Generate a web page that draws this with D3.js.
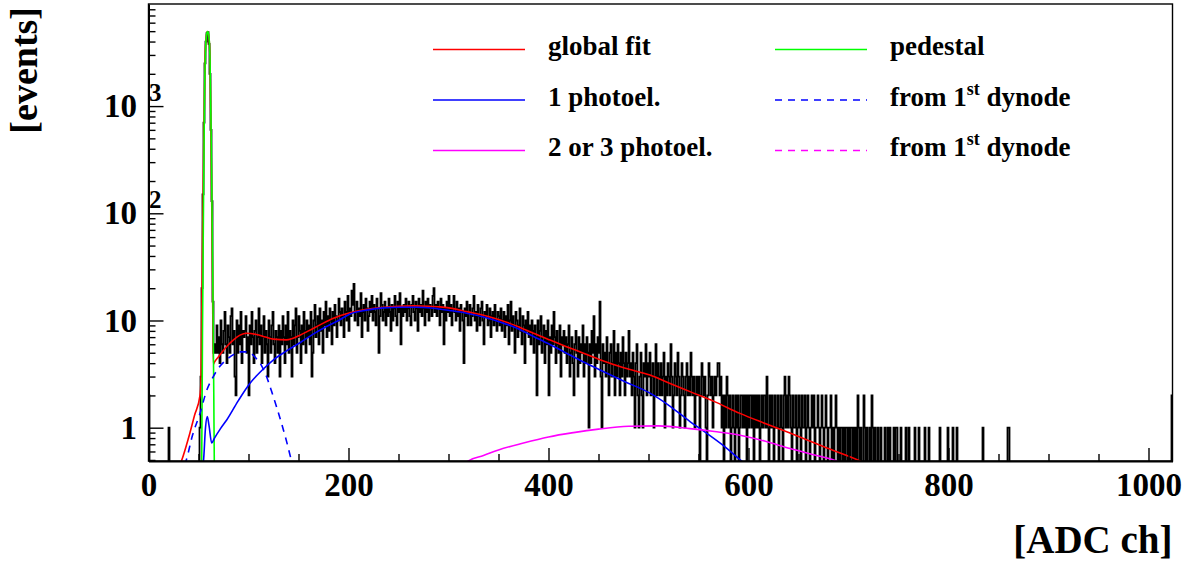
<!DOCTYPE html>
<html>
<head>
<meta charset="utf-8">
<script src="https://cdn.jsdelivr.net/npm/d3@7"></script>
<style>
  body { margin: 0; background: #fff; }
  svg text { font-family: "Liberation Serif", "Times New Roman", serif; font-weight: bold; }
</style>
</head>
<body>
<div id="chart"></div>
<script>
const width = 1192,
  height = 562;
const frame = { left: 148.5, right: 1172.5, top: 4, bottom: 461 };

// ADC histogram, one bin per channel (0..799 listed, rest sparse)
const counts = [
  2,0,0,0,0,0,0,0,0,0,0,0,0,0,0,0,0,0,0,0,1,0,0,0,0,0,0,0,0,0,0,0,
  0,0,0,0,0,0,0,0,0,0,0,0,0,0,0,0,0,0,0,1,3,20,150,700,2500,4000,4800,4900,3800,2000,600,130,
  15,5,6,5,9,5,7,4,10,6,5,8,12,6,4,9,7,5,11,13,6,8,3,2,10,5,9,6,12,4,8,7,
  8,11,5,7,2,9,6,12,7,4,8,10,5,7,13,6,9,4,7,11,5,8,6,3,10,7,5,9,12,6,4,8,
  7,5,9,3,8,6,11,7,4,9,6,12,5,8,7,3,10,6,9,13,5,7,11,8,4,9,6,12,8,5,10,7,
  9,6,12,3,5,10,14,7,9,11,6,13,8,10,5,12,9,15,7,11,8,13,10,6,12,9,14,11,7,10,16,12,
  9,13,11,7,15,12,10,17,8,13,11,19,14,22,10,12,15,9,13,11,18,7,12,14,10,16,13,8,11,15,12,17,
  10,14,12,9,16,13,5,11,18,14,10,12,15,9,13,11,16,12,8,14,10,13,17,11,9,15,12,18,6,13,11,14,
  12,16,10,13,15,11,9,14,17,12,10,15,13,8,16,12,14,11,19,13,9,15,12,16,10,14,13,11,17,20,12,14,
  11,15,13,9,16,12,14,6,13,10,15,12,17,11,14,9,13,17,12,10,15,11,13,8,14,12,10,4,13,11,15,9,
  12,14,9,11,13,17,10,12,8,14,11,9,13,15,10,6,12,11,14,9,10,13,7,11,12,9,14,10,8,12,11,9,
  13,8,10,12,7,11,9,14,6,10,15,8,11,9,5,12,10,7,9,13,8,6,11,9,4,10,8,12,7,9,6,10,
  8,5,9,7,2,10,6,8,11,5,7,9,4,8,6,10,2,7,5,9,6,12,7,4,8,6,5,9,3,7,6,8,
  5,7,4,6,9,3,5,7,4,2,6,8,5,3,7,4,6,5,9,3,6,4,7,5,1,6,4,8,5,11,3,6,
  4,7,5,15,3,1,6,4,5,3,7,4,2,5,6,3,4,8,2,5,3,6,4,2,5,3,7,4,2,5,3,4,
  8,3,4,2,5,3,1,4,6,2,1,3,5,2,1,4,3,6,2,4,3,5,2,3,4,1,3,6,2,4,3,2,
  4,2,3,5,1,3,2,4,3,2,6,3,1,2,4,3,2,5,3,1,2,4,3,2,1,3,4,2,3,2,5,3,
  2,3,1,2,3,2,3,0,2,4,3,2,3,1,0,2,4,3,2,3,1,2,3,2,3,4,4,2,3,1,2,0,
  2,1,3,2,1,2,0,1,2,1,0,2,1,2,0,1,2,2,1,2,1,2,0,2,1,2,2,1,2,0,2,1,
  2,1,2,0,1,2,1,2,2,1,3,1,0,2,1,2,1,0,2,1,1,2,0,1,2,1,0,2,3,1,2,1,
  3,2,1,0,2,1,1,2,0,1,2,1,0,2,1,1,2,0,1,2,1,0,1,2,1,2,0,1,1,2,1,0,
  1,2,1,0,1,2,1,0,1,1,2,0,1,0,1,2,1,0,1,0,1,1,0,1,0,1,1,0,1,0,1,1,
  0,1,0,1,0,2,1,0,1,0,0,2,1,0,1,0,0,1,0,2,1,0,1,0,0,1,0,0,1,0,0,0,
  1,0,0,1,0,1,0,0,0,1,0,1,1,0,0,0,1,0,0,0,0,1,0,0,1,0,0,0,0,0,1,0,
  0,0,1,0,0,0,0,0,1,0,0,0,1,0,0,0,0,0,0,0,0,0,0,1,0,0,0,0,0,0,0,1
];
const tailHits = [[804, 1], [808, 1], [834, 1], [859, 1], [860, 1], [1023, 2]];
const nBins = 1024;

// fitted curves, [channel, events]
const globalFit = [
  [30,0.42],[33,0.49],[40,0.8],[46,1.3],[51.5,2],[52.5,2.8],[53.8,39],[54.8,200],[56.5,2700],[58,4600],
  [59.2,4950],[60.5,4300],[61.5,2700],[63.2,133],[64,25],[64.8,3.9],[66,4.1],[70,4.6],[78,5.7],[85,6.6],
  [91.5,7.3],[98,7.6],[108,7.4],[117,7.0],[125,6.7],[138,6.6],[151.5,7.3],[160,8.0],[171.5,9.1],[185,10.5],
  [201.5,11.8],[218,12.7],[235,13.3],[250,13.6],[265,13.7],[280,13.6],[291.5,13.4],[305,12.9],[318,12.1],
  [335,11.2],[351.5,10.1],[368,8.9],[385,7.6],[401,6.6],[418,5.7],[435,4.95],[451.5,4.3],[476,3.6],
  [501.5,3.1],[521,2.6],[541.5,2.17],[566,1.75],[591.5,1.36],[616,1.1],[641.5,0.89],[676,0.66],[711.5,0.49],[720,0.45]
];
const pedestal = [
  [53,0.45],[53.2,0.49],[54,8],[55,120],[56,1200],[57,3300],[58,4600],[59.2,4950],[60.4,4500],[61.5,2700],
  [62.5,700],[63.5,120],[64.5,15],[65.3,2],[65.8,0.49],[66,0.45]
];
const onePhotoel = [
  [54.5,0.45],[55,0.49],[57,1.0],[58.8,1.27],[60.5,1.05],[63.2,0.72],[66,0.8],[72,0.98],[78.2,1.18],[90,1.8],
  [101.5,2.6],[113,3.4],[125,4.3],[138,5.2],[151.5,6.2],[165,7.5],[178,8.8],[190,10.0],[201.5,11.5],[218,12.5],
  [235,13.1],[251.5,13.3],[268,13.3],[285,13.0],[301,12.4],[318,11.7],[335,10.8],[351.5,9.7],[368,8.5],[385,7.1],
  [401,6.0],[418,4.95],[435,4.1],[451.5,3.46],[476,2.7],[501.5,2.1],[521,1.6],[541.5,1.14],[558,0.89],[575,0.68],
  [593,0.49],[598,0.45]
];
const oneDynode = [
  [36,0.45],[37.5,0.49],[44,0.85],[51.5,1.36],[58,2.2],[64.8,3.0],[71,3.7],[78,4.3],[85,4.8],[91.5,5.1],
  [98,5.1],[103,4.9],[108,4.4],[113,3.8],[118,3.0],[123,2.2],[128,1.57],[133,1.1],[138,0.75],[143,0.49],[145,0.42]
];
const multiPhotoel = [
  [315,0.45],[320,0.49],[335,0.55],[350,0.62],[375,0.72],[400,0.82],[425,0.9],[450,0.97],[480,1.03],[510,1.04],
  [541.5,0.98],[566,0.92],[591.5,0.85],[616,0.75],[641.5,0.64],[665,0.56],[688,0.49],[695,0.46]
];

const xMajor = [0, 200, 400, 600, 800, 1000];
const yDecades = [1, 10, 100, 1000];
const legendCols = [
  ["global fit", "1 photoel.", "2 or 3 photoel."],
  ["pedestal", "from 1^{st} dynode", "from 1^{st} dynode"],
];
const legendKeys = [
  ["global", "one", "multi"],
  ["pedestal", "oneDyn", "multiDyn"],
];

const styles = {
  global: { color: "#ff0000", dash: null },
  pedestal: { color: "#00ff00", dash: null },
  one: { color: "#0000ff", dash: null },
  oneDyn: { color: "#0000ff", dash: "7,6" },
  multi: { color: "#ff00ff", dash: null },
  multiDyn: { color: "#ff00ff", dash: "7,6" },
};

const binValues = d3.range(nBins).map((i) => (i < counts.length ? counts[i] : 0));
tailHits.forEach(([i, v]) => (binValues[i] = v));

const x = d3.scaleLinear().domain([0, nBins]).range([frame.left, frame.right]);
const y = d3.scaleLog().domain([0.489, 8960]).range([frame.bottom, frame.top]);
const yv = (v) => y(Math.max(v, 0.3));

const svg = d3
  .select("#chart")
  .append("svg")
  .attr("width", width)
  .attr("height", height);

svg.append("rect").attr("width", width).attr("height", height).attr("fill", "#fff");

svg
  .append("defs")
  .append("clipPath")
  .attr("id", "plot-clip")
  .append("rect")
  .attr("x", frame.left)
  .attr("y", frame.top)
  .attr("width", frame.right - frame.left)
  .attr("height", frame.bottom - frame.top);

const plot = svg.append("g").attr("clip-path", "url(#plot-clip)");

// histogram outline
const histPoints = [[0, 0]]
  .concat(binValues.map((v, i) => [i, v]))
  .concat([[nBins, binValues[nBins - 1]], [nBins, 0]]);

plot
  .append("path")
  .datum(histPoints)
  .attr("fill", "none")
  .attr("stroke", "#000")
  .attr("stroke-width", 1.8)
  .attr(
    "d",
    d3
      .line()
      .x((d) => x(d[0]))
      .y((d) => yv(d[1]))
      .curve(d3.curveStepAfter)
  );

const curveLine = d3
  .line()
  .x((d) => x(d[0]))
  .y((d) => y(d[1]))
  .curve(d3.curveMonotoneX);

const curves = [
  ["global", globalFit],
  ["pedestal", pedestal],
  ["one", onePhotoel],
  ["oneDyn", oneDynode],
  ["multi", multiPhotoel],
];

curves.forEach(([key, pts]) => {
  plot
    .append("path")
    .datum(pts)
    .attr("fill", "none")
    .attr("stroke", styles[key].color)
    .attr("stroke-width", 1.6)
    .attr("stroke-dasharray", styles[key].dash)
    .attr("d", curveLine);
});

// frame
svg
  .append("rect")
  .attr("x", frame.left)
  .attr("y", frame.top)
  .attr("width", frame.right - frame.left)
  .attr("height", frame.bottom - frame.top)
  .attr("fill", "none")
  .attr("stroke", "#000")
  .attr("stroke-width", 1.4);

// x axis
const xAxisG = svg
  .append("g")
  .attr("transform", `translate(0,${frame.bottom})`)
  .call(
    d3
      .axisBottom(x)
      .tickValues(xMajor)
      .tickSize(-13)
      .tickSizeOuter(0)
      .tickPadding(12)
      .tickFormat(d3.format("d"))
  );
xAxisG.attr("font-size", 33).attr("font-family", null);
xAxisG.select(".domain").attr("stroke-width", 2);
xAxisG.selectAll(".tick line").attr("stroke-width", 1.4);
xAxisG.selectAll(".tick text").attr("fill", "#000");

const xMinor = d3.range(0, nBins + 1, 50).filter((d) => !xMajor.includes(d));
const xMinorG = svg
  .append("g")
  .attr("transform", `translate(0,${frame.bottom})`)
  .call(d3.axisBottom(x).tickValues(xMinor).tickSize(-7).tickSizeOuter(0).tickFormat(""));
xMinorG.select(".domain").remove();
xMinorG.selectAll(".tick line").attr("stroke-width", 1.4);

// y axis
const yAxisG = svg
  .append("g")
  .attr("transform", `translate(${frame.left},0)`)
  .call(
    d3
      .axisLeft(y)
      .tickValues(yDecades)
      .tickSize(-15)
      .tickSizeOuter(0)
      .tickPadding(11.5)
      .tickFormat((d) => (d >= 100 ? "10" : String(d)))
  );
yAxisG.attr("font-size", 33).attr("font-family", null);
yAxisG.select(".domain").attr("stroke-width", 2);
yAxisG.selectAll(".tick line").attr("stroke-width", 1.4);
yAxisG.selectAll(".tick text").attr("fill", "#000");
yAxisG
  .selectAll(".tick")
  .filter((d) => d >= 100)
  .append("text")
  .attr("x", 0.5)
  .attr("y", -6)
  .attr("font-size", 25)
  .attr("text-anchor", "start")
  .attr("fill", "#000")
  .text((d) => String(Math.round(Math.log10(d))));

const yMinor = y.ticks().filter((d) => !yDecades.some((t) => Math.abs(t - d) < 1e-9));
const yMinorG = svg
  .append("g")
  .attr("transform", `translate(${frame.left},0)`)
  .call(d3.axisLeft(y).tickValues(yMinor).tickSize(-7).tickSizeOuter(0).tickFormat(""));
yMinorG.select(".domain").remove();
yMinorG.selectAll(".tick line").attr("stroke-width", 1.4);

// axis titles
svg
  .append("text")
  .attr("x", frame.right)
  .attr("y", 553)
  .attr("text-anchor", "end")
  .attr("font-size", 39)
  .text("[ADC ch]");

svg
  .append("text")
  .attr("transform", "translate(37,7) rotate(-90)")
  .attr("text-anchor", "end")
  .attr("font-size", 38)
  .text("[events]");

// legend
const legendLineX = [[433, 525], [775, 867]];
const legendTextX = [548, 890];
const legendRowY = [49.5, 100, 150.5];

legendCols.forEach((col, c) => {
  col.forEach((label, r) => {
    const st = styles[legendKeys[c][r]];
    svg
      .append("line")
      .attr("x1", legendLineX[c][0])
      .attr("x2", legendLineX[c][1])
      .attr("y1", legendRowY[r])
      .attr("y2", legendRowY[r])
      .attr("stroke", st.color)
      .attr("stroke-width", 1.6)
      .attr("stroke-dasharray", st.dash);

    const t = svg
      .append("text")
      .attr("x", legendTextX[c])
      .attr("y", legendRowY[r] + 5.5)
      .attr("font-size", 27);
    const m = label.match(/^(.*)\^\{(.*)\}(.*)$/);
    if (m) {
      t.append("tspan").text(m[1]);
      t.append("tspan").attr("dy", -11).attr("font-size", 18).text(m[2]);
      t.append("tspan").attr("dy", 11).text(m[3]);
    } else {
      t.text(label);
    }
  });
});
</script>
</body>
</html>
